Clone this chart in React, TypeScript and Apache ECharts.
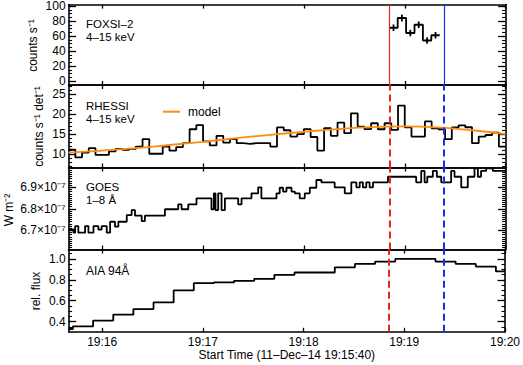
import React, { useEffect, useRef } from "react";
import * as echarts from "echarts";

const FONT = "'Liberation Sans', Arial, Helvetica, sans-serif";

// ---- time axis: seconds after start time 19:15:40 ----
const T_MIN = 0;
const T_MAX = 260;
const xTickSeconds = [20, 80, 140, 200, 260];
const xTickLabels = ["19:16", "19:17", "19:18", "19:19", "19:20"];
const xAxisTitle = "Start Time (11–Dec–14 19:15:40)";

// vertical markers (seconds after 19:15:40)
const redLineT = 190.8;
const blueLineT = 223.3;

// ---- FOXSI-2 4-15 keV (counts/s) ----
const foxsiBinStart = [190.8, 195.8, 200.8, 205.8, 210.8, 215.8];
const foxsiBinWidth = 5;
const foxsiCounts = [71, 84, 64, 75, 54, 61];
const foxsiErr = [4.4, 4.6, 4.3, 4.4, 4.2, 4.3];

// ---- RHESSI 4-15 keV (counts/s/det), 4 s bins ----
const rhessiBinWidth = 4;
const rhessiCounts = [
  11.1, 9.2, 10.4, 11.5, 9.8, 9.8, 10.7, 11.3, 11.1, 11.3,
  11.9, 13.75, 10.1, 10.1, 11.9, 10.9, 11.75, 12.75, 16.25, 17.3,
  13.2, 12.2, 14.6, 12.9, 13.8, 12.75, 12.6, 12.75, 12.75, 12.75,
  11.9, 16.7, 16.0, 14.4, 15.0, 16.3, 14.3, 10.9, 16.5, 14.6,
  17.9, 15.25, 20.25, 16.9, 16.3, 17.75, 16.25, 17.75, 16.1, 22.2,
  16.7, 14.4, 14.4, 18.2, 16.5, 16.25, 13.75, 16.7, 17.2, 16.75,
  12.75, 14.4, 14.8, 15.4, 11.9,
];
const modelT = [0, 20, 40, 60, 80, 100, 120, 140, 160, 180, 200, 220, 240, 260];
const modelV = [10.4, 10.9, 11.5, 12.3, 13.1, 14.0, 14.85, 15.6, 16.3, 16.8, 16.95, 16.7, 16.0, 15.0];

// ---- GOES 1-8 Å (units of 1e-7 W m^-2), change points ----
const goesT = [
  0, 2.9, 3.9, 5.8, 9.8, 11.8, 14.8, 17.7, 19.7, 22.7,
  24.7, 27.6, 29.6, 34.6, 37.5, 39.5, 43.5, 45.4, 57.3, 65.2,
  67.2, 71.2, 76.1, 85.0, 86.4, 87.4, 89.0, 91.0, 93.0, 100.9,
  102.9, 108.8, 112.8, 114.7, 123.7, 125.6, 127.6, 129.6, 132.6, 134.6,
  137.5, 140.5, 143.5, 147.4, 150.4, 158.3, 164.3, 168.2, 171.2, 173.2,
  175.1, 177.1, 179.1, 181.1, 190.0, 206.8, 209.8, 211.8, 213.4, 216.7,
  219.1, 221.7, 227.6, 229.6, 233.6, 237.5, 241.5, 243.5, 245.4, 248.4,
  252.4,
];
const goesV = [
  6.704, 6.689, 6.72, 6.689, 6.72, 6.689, 6.72, 6.704, 6.72, 6.689,
  6.74, 6.717, 6.74, 6.771, 6.794, 6.768, 6.743, 6.768, 6.798, 6.821,
  6.798, 6.821, 6.849, 6.798, 6.872, 6.794, 6.872, 6.794, 6.849, 6.821,
  6.849, 6.872, 6.9, 6.849, 6.872, 6.898, 6.88, 6.898, 6.88, 6.872,
  6.849, 6.872, 6.898, 6.934, 6.923, 6.9, 6.872, 6.923, 6.9, 6.923,
  6.9, 6.923, 6.9, 6.923, 6.949, 6.923, 6.976, 6.923, 6.949, 6.976,
  6.949, 6.923, 6.976, 6.949, 6.9, 6.949, 6.988, 6.949, 6.976, 6.988,
  6.976,
];

// ---- AIA 94 Å relative flux, 12 s cadence ----
const aiaT = [
  0, 2.6, 14.6, 26.6, 38.6, 50.6, 62.6, 74.6, 86.6, 98.6, 110.6, 122.6,
  134.6, 146.6, 158.6, 170.6, 182.6, 194.6, 206.6, 218.6, 230.6, 242.6, 254.6,
];
const aiaV = [
  0.33, 0.355, 0.41, 0.467, 0.52, 0.584, 0.7, 0.768, 0.775, 0.79, 0.81, 0.848,
  0.87, 0.87, 0.92, 0.952, 0.975, 1.0, 1.0, 0.975, 0.952, 0.927, 0.88,
];

// ---- y axes ----
const foxsiYTicks = [0, 20, 40, 60, 80, 100];
const rhessiYTicks = [10, 15, 20, 25];
const goesYTicks = [6.7, 6.8, 6.9];
const aiaYTicks = [0.4, 0.6, 0.8, 1.0];

const panelRanges: [number, number][] = [
  [-5.3, 101.9],
  [6.65, 27.35],
  [6.611, 6.992],
  [0.303, 1.09],
];
const panelMinorSteps = [5, 1, 0.01, 0.05];
const panelMajorTicks = [foxsiYTicks, rhessiYTicks, goesYTicks, aiaYTicks];
const panelFormatters = [
  (v: number) => String(Math.round(v)),
  (v: number) => String(Math.round(v)),
  (v: number) => v.toFixed(1) + "×10⁻⁷",
  (v: number) => v.toFixed(1),
];

// ---- layout ----
const GRID_LEFT = 68.6;
const GRID_RIGHT = 17.4;
const panelTops = [4.3, 85, 167.5, 249.5];
const panelHeights = [80.7, 82.5, 82, 82.3];

const RED = "#e8241f";
const BLUE = "#1f2cf0";
const ORANGE = "#ff8c10";

function stepTicks(min: number, max: number, step: number): number[] {
  const out: number[] = [];
  const k0 = Math.ceil(min / step - 1e-9);
  const k1 = Math.floor(max / step + 1e-9);
  for (let k = k0; k <= k1; k++) out.push(+(k * step).toFixed(6));
  return out;
}

function stepData(starts: number[], values: number[], end: number): number[][] {
  const d = starts.map((t, i) => [t, values[i]]);
  d.push([end, values[values.length - 1]]);
  return d;
}

function buildOption() {
  const grids = panelTops.map((top, i) => ({
    left: GRID_LEFT,
    right: GRID_RIGHT,
    top,
    height: panelHeights[i],
  }));

  const axisLine = { show: true, onZero: false, lineStyle: { color: "#000", width: 1.6 } };

  const xAxes: any[] = [];
  const yAxes: any[] = [];
  for (let i = 0; i < 4; i++) {
    for (const pos of ["bottom", "top"]) {
      const isMain = i === 3 && pos === "bottom";
      xAxes.push({
        type: "value",
        gridIndex: i,
        position: pos,
        min: T_MIN,
        max: T_MAX,
        axisLine,
        axisTick: {
          show: true,
          inside: true,
          length: 4,
          customValues: xTickSeconds,
          lineStyle: { color: "#000", width: 1.3 },
        },
        axisLabel: {
          show: isMain,
          customValues: xTickSeconds,
          formatter: (v: number) => {
            const idx = xTickSeconds.indexOf(v);
            return idx >= 0 ? xTickLabels[idx] : "";
          },
          color: "#000",
          fontSize: 12,
          fontFamily: FONT,
          margin: 4,
        },
        splitLine: { show: false },
        name: isMain ? xAxisTitle : "",
        nameLocation: "middle",
        nameGap: 17,
        nameTextStyle: { color: "#000", fontSize: 12, fontFamily: FONT },
      });
    }
    const [ymin, ymax] = panelRanges[i];
    const minor = stepTicks(ymin, ymax, panelMinorSteps[i]);
    const major = panelMajorTicks[i];
    for (const pos of ["left", "right"]) {
      yAxes.push({
        type: "value",
        gridIndex: i,
        position: pos,
        min: ymin,
        max: ymax,
        axisLine,
        axisTick: {
          show: true,
          inside: true,
          length: 7.5,
          customValues: major,
          lineStyle: { color: "#000", width: 1.3 },
        },
        axisLabel: {
          show: pos === "left",
          customValues: major,
          formatter: panelFormatters[i],
          color: "#000",
          fontSize: 12,
          fontFamily: FONT,
          margin: 3,
        },
        splitLine: { show: false },
      });
      yAxes.push({
        type: "value",
        gridIndex: i,
        position: pos,
        min: ymin,
        max: ymax,
        axisLine: { show: false, onZero: false },
        axisTick: {
          show: true,
          inside: true,
          length: 3.5,
          customValues: minor,
          lineStyle: { color: "#000", width: 1.1 },
        },
        axisLabel: { show: false },
        splitLine: { show: false },
      });
    }
  }

  const markLines = (dashed: boolean) => ({
    symbol: ["none", "none"],
    silent: true,
    label: { show: false },
    emphasis: { disabled: true },
    data: [
      { xAxis: redLineT, lineStyle: { color: RED, width: dashed ? 2 : 1.2, type: dashed ? [7, 4] : "solid" } },
      { xAxis: blueLineT, lineStyle: { color: BLUE, width: dashed ? 2 : 1.2, type: dashed ? [7, 4] : "solid" } },
    ],
  });

  const blackStep = { color: "#000", width: 1.8 };

  const series: any[] = [
    {
      name: "FOXSI",
      type: "line",
      xAxisIndex: 0,
      yAxisIndex: 0,
      step: "end",
      symbol: "none",
      lineStyle: blackStep,
      data: stepData(foxsiBinStart, foxsiCounts, foxsiBinStart[foxsiBinStart.length - 1] + foxsiBinWidth),
      markLine: markLines(false),
      z: 3,
    },
    {
      name: "FOXSI err",
      type: "custom",
      xAxisIndex: 0,
      yAxisIndex: 0,
      data: foxsiBinStart.map((t, i) => [t + foxsiBinWidth / 2, foxsiCounts[i], foxsiErr[i]]),
      encode: { x: 0, y: 1 },
      renderItem: (_p: any, api: any) => {
        const x = api.value(0);
        const y = api.value(1);
        const e = api.value(2);
        const a = api.coord([x, y - e]);
        const b = api.coord([x, y + e]);
        return {
          type: "line",
          shape: { x1: a[0], y1: a[1], x2: b[0], y2: b[1] },
          style: { stroke: "#000", lineWidth: 1.8 },
        };
      },
      z: 3,
    },
    {
      name: "RHESSI",
      type: "line",
      xAxisIndex: 2,
      yAxisIndex: 4,
      step: "end",
      symbol: "none",
      lineStyle: blackStep,
      data: stepData(rhessiCounts.map((_, i) => i * rhessiBinWidth), rhessiCounts, T_MAX),
      markLine: markLines(true),
      z: 3,
    },
    {
      name: "model",
      type: "line",
      xAxisIndex: 2,
      yAxisIndex: 4,
      smooth: true,
      symbol: "none",
      color: ORANGE,
      lineStyle: { color: ORANGE, width: 1.8 },
      data: modelT.map((t, i) => [t, modelV[i]]),
      z: 4,
    },
    {
      name: "GOES",
      type: "line",
      xAxisIndex: 4,
      yAxisIndex: 8,
      step: "end",
      symbol: "none",
      lineStyle: blackStep,
      data: stepData(goesT, goesV, T_MAX),
      markLine: markLines(true),
      z: 3,
    },
    {
      name: "AIA",
      type: "line",
      xAxisIndex: 6,
      yAxisIndex: 12,
      step: "end",
      symbol: "none",
      lineStyle: blackStep,
      data: stepData(aiaT, aiaV, T_MAX),
      markLine: markLines(true),
      z: 3,
    },
  ];

  const txt = (text: string, x: number, y: number, extra: any = {}) => ({
    type: "text",
    x,
    y,
    silent: true,
    ...extra,
    style: {
      text,
      fill: "#000",
      font: `12px ${FONT}`,
      align: "left",
      verticalAlign: "middle",
      ...(extra.style || {}),
    },
  });
  const vtxt = (text: string, x: number, y: number) =>
    txt(text, x, y, { rotation: Math.PI / 2, style: { align: "center", verticalAlign: "middle" } });
  const small = { style: { font: `11.5px ${FONT}` } };

  const graphic = [
    txt("FOXSI–2", 86, 23.5, small),
    txt("4–15 keV", 86, 36.5, small),
    txt("RHESSI", 86, 106.3, small),
    txt("4–15 keV", 86, 119.3, small),
    txt("GOES", 86, 187, small),
    txt("1–8 Å", 86, 200, small),
    txt("AIA 94Å", 86, 270.5),
    vtxt("counts s⁻¹", 33, 45.5),
    vtxt("counts s⁻¹ det⁻¹", 38.5, 126.5),
    vtxt("W m⁻²", 8.5, 210),
    vtxt("rel. flux", 36, 291),
  ];

  return {
    animation: false,
    backgroundColor: "#fff",
    textStyle: { fontFamily: FONT },
    grid: grids,
    xAxis: xAxes,
    yAxis: yAxes,
    legend: {
      data: [{ name: "model", icon: "rect", itemStyle: { color: ORANGE } }],
      left: 163,
      top: 105.7,
      padding: 0,
      itemWidth: 17,
      itemHeight: 2,
      selectedMode: false,
      textStyle: { color: "#000", fontSize: 12, fontFamily: FONT, padding: [0, 0, 0, 3] },
    },
    series,
    graphic,
  };
}

export default function App() {
  const ref = useRef<HTMLDivElement>(null);
  useEffect(() => {
    if (!ref.current) return;
    const chart = echarts.init(ref.current, null, { renderer: "svg" });
    chart.setOption(buildOption() as any);
    return () => chart.dispose();
  }, []);
  return (
    <div
      ref={ref}
      style={{ position: "absolute", left: 0, top: 0, width: 523, height: 365, background: "#fff" }}
    />
  );
}
